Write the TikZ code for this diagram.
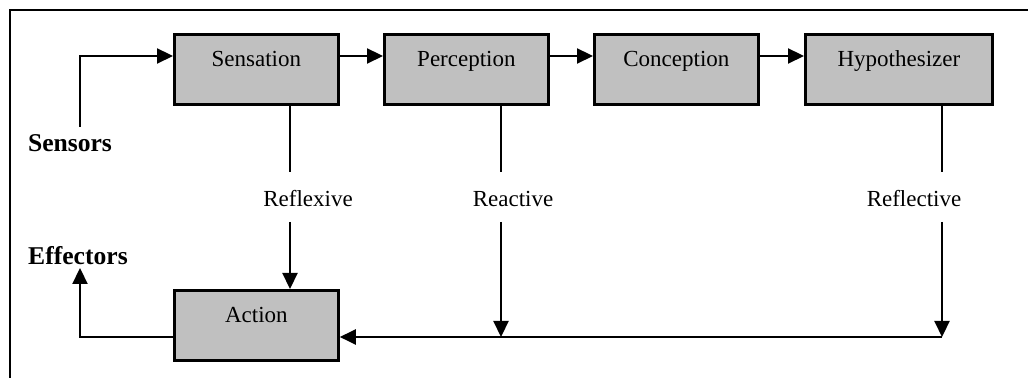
\documentclass[tikz,border=0pt]{standalone}
\usepackage{fontspec}
\setmainfont{Liberation Serif}
\usetikzlibrary{arrows.meta}
\begin{document}
\begin{tikzpicture}[x=0.5pt,y=-0.5pt,
  stage/.style={draw=black, line width=1.4pt, fill={rgb,255:red,192;green,192;blue,192},
    anchor=north west, inner sep=0pt, minimum width=82pt, text height=16pt, text depth=19pt,
    font=\fontsize{11.5pt}{13pt}\selectfont},
  lbl/.style={inner sep=0pt, font=\fontsize{11.5pt}{13pt}\selectfont},
  blbl/.style={inner sep=0pt, font=\fontsize{12.8pt}{14pt}\selectfont\bfseries},
  conn/.style={line width=1.1pt},
  arr/.style={line width=1.1pt, -{Triangle[length=8pt,width=7.5pt]}}]
\useasboundingbox (0,0) rectangle (1028,378);
\draw[line width=1.1pt] (1028,10) -- (10,10) -- (10,378);
% boxes
\node[stage] (sens) at (173,33) {Sensation};
\node[stage] (perc) at (383,33) {Perception};
\node[stage] (conc) at (593,33) {Conception};
\node[stage, minimum width=93.5pt] (hyp) at (804,33) {Hypothesizer};
\node[stage] (act) at (173,289) {Action};
% labels
\node[blbl] (sensors) at (70,143) {Sensors};
\node[blbl] (effectors) at (78,256) {Effectors};
\node[lbl] (reflexive) at (308,199) {Reflexive};
\node[lbl] (reactive) at (513,199) {Reactive};
\node[lbl] (reflective) at (914,199) {Reflective};
% coordinates
\coordinate (row) at (0,56);
\coordinate (low) at (0,337);
\coordinate (s0) at (80,127);
\coordinate (e0) at (80,268);
\coordinate (xa) at (290,0);
\coordinate (xb) at (501,0);
\coordinate (xc) at (942,0);
\coordinate (stemend) at (0,172);
\coordinate (stembeg) at (0,222);
% top row
\draw[arr] (s0) |- (sens.west |- row);
\draw[arr] (sens.east |- row) -- (perc.west |- row);
\draw[arr] (perc.east |- row) -- (conc.west |- row);
\draw[arr] (conc.east |- row) -- (hyp.west |- row);
% stems
\draw[conn] (xa |- sens.south) -- (xa |- stemend);
\draw[conn] (xb |- perc.south) -- (xb |- stemend);
\draw[conn] (xc |- hyp.south) -- (xc |- stemend);
\draw[arr] (xa |- stembeg) -- (xa |- act.north);
\draw[arr] (xb |- stembeg) -- (xb |- low);
\draw[arr] (xc |- stembeg) -- (xc |- low);
\draw[arr] (xc |- low) -- (act.east |- low);
% effectors
\draw[arr] (act.west |- low) -| (e0);
\end{tikzpicture}
\end{document}
